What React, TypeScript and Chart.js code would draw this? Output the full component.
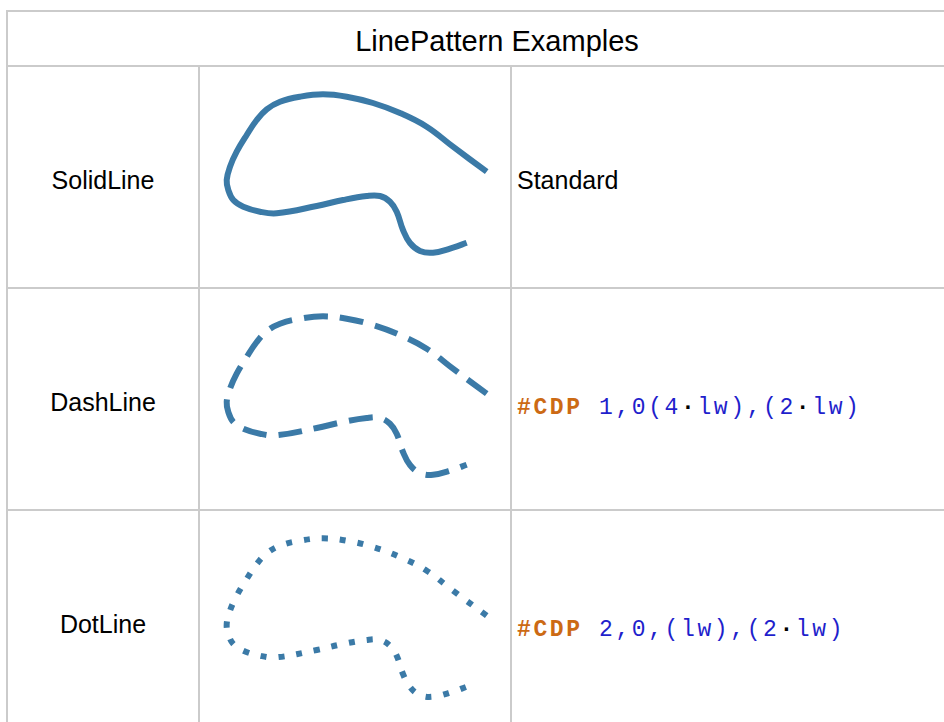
import React, { useEffect, useRef } from "react";
import { Chart, registerables } from "chart.js";

Chart.register(...registerables);

// Curve sample points (cell-local units, y grows downward)
const curveX = [286.7, 253, 226.7, 200, 173, 146.7, 123, 100, 80, 66.7, 56.7, 46.7, 36.7, 30, 26.7, 28.3, 33.3, 43.3, 60, 76.7, 116.7, 143, 166.7, 180, 190, 196.7, 203, 210, 220, 233, 253, 266.7];
const curveY = [104.7, 79.7, 59.7, 46, 36, 29.7, 27.3, 29.7, 34.7, 42.3, 53, 68, 84.7, 99.7, 113, 123, 133, 139.7, 144.7, 146.3, 139, 133, 129, 129, 134.7, 144.7, 163, 176, 184, 185.7, 180.7, 175.7];

const rowNames = ["SolidLine", "DashLine", "DotLine"];
const title = "LinePattern Examples";

const LW = 6;
const COLOR = "#3b7aa7";
const BORDER = "#cbcbcb";

const rowTops = [67, 289, 511];
const rowHeights = [220, 220, 211];
const dashes: number[][] = [[], [4 * LW, 2 * LW], [LW, 2 * LW]];

function CurveChart({ dash, height }: { dash: number[]; height: number }) {
  const ref = useRef<HTMLCanvasElement | null>(null);
  useEffect(() => {
    if (!ref.current) return;
    const pts = curveX.map((x, i) => ({ x, y: curveY[i] }));
    const chart = new Chart(ref.current, {
      type: "scatter",
      data: {
        datasets: [
          {
            data: pts,
            showLine: true,
            borderColor: COLOR,
            borderWidth: LW,
            borderDash: dash,
            borderCapStyle: "butt",
            tension: 0.4,
            pointRadius: 0,
            fill: false,
          } as any,
        ],
      },
      options: {
        animation: false,
        responsive: false,
        events: [],
        layout: { padding: 0 },
        plugins: { legend: { display: false }, tooltip: { enabled: false } },
        scales: {
          x: { display: false, min: 0, max: 310 },
          y: { display: false, min: 0, max: height, reverse: true },
        },
      },
    });
    return () => chart.destroy();
  }, [dash, height]);
  return <canvas ref={ref} width={310} height={height} style={{ display: "block" }} />;
}

const abs = (l: number, t: number, w: number, h: number, extra: React.CSSProperties = {}): React.CSSProperties => ({
  position: "absolute",
  left: l,
  top: t,
  width: w,
  height: h,
  ...extra,
});

function CodeText({ parts }: { parts: string[] }) {
  return (
    <span style={{ fontFamily: "'Liberation Mono', monospace", fontSize: 23, letterSpacing: 2.6, whiteSpace: "pre" }}>
      <span style={{ color: "#cc6a14", fontWeight: "bold" }}>#CDP</span>
      <span style={{ color: "#1f1fcc" }}> </span>
      {parts.map((p, i) =>
        p === "·" ? (
          <span key={i} style={{ color: "#000", fontWeight: "bold" }}>·</span>
        ) : (
          <span key={i} style={{ color: "#1f1fcc" }}>{p}</span>
        )
      )}
    </span>
  );
}

export default function App() {
  const sans = "'Liberation Sans', Arial, sans-serif";
  const thirdCol = [
    <span style={{ fontFamily: sans, fontSize: 25, color: "#000" }}>Standard</span>,
    <CodeText parts={["1,0(4", "·", "lw),(2", "·", "lw)"]} />,
    <CodeText parts={["2,0,(lw),(2", "·", "lw)"]} />,
  ];
  const thirdOffsets = [3, 9, 9];
  return (
    <div style={abs(0, 0, 944, 722, { overflow: "hidden", background: "#fff" })}>
      {/* borders */}
      <div style={abs(6, 10, 938, 2, { background: BORDER })} />
      <div style={abs(6, 10, 2, 712, { background: BORDER })} />
      <div style={abs(6, 65, 938, 2, { background: BORDER })} />
      <div style={abs(198, 67, 2, 655, { background: BORDER })} />
      <div style={abs(510, 67, 2, 655, { background: BORDER })} />
      <div style={abs(6, 287, 938, 2, { background: BORDER })} />
      <div style={abs(6, 509, 938, 2, { background: BORDER })} />
      {/* title */}
      <div style={abs(8, 15, 978, 53, { display: "flex", alignItems: "center", justifyContent: "center", fontFamily: sans, fontSize: 29, color: "#000" })}>
        {title}
      </div>
      {rowNames.map((name, i) => (
        <React.Fragment key={name}>
          <div style={abs(8, rowTops[i] + 3, 190, 220, { display: "flex", alignItems: "center", justifyContent: "center", fontFamily: sans, fontSize: 25, color: "#000" })}>
            {name}
          </div>
          <div style={abs(200, rowTops[i], 310, rowHeights[i])}>
            <CurveChart dash={dashes[i]} height={rowHeights[i]} />
          </div>
          <div style={abs(517, rowTops[i] + thirdOffsets[i], 420, 220, { display: "flex", alignItems: "center" })}>
            {thirdCol[i]}
          </div>
        </React.Fragment>
      ))}
    </div>
  );
}
